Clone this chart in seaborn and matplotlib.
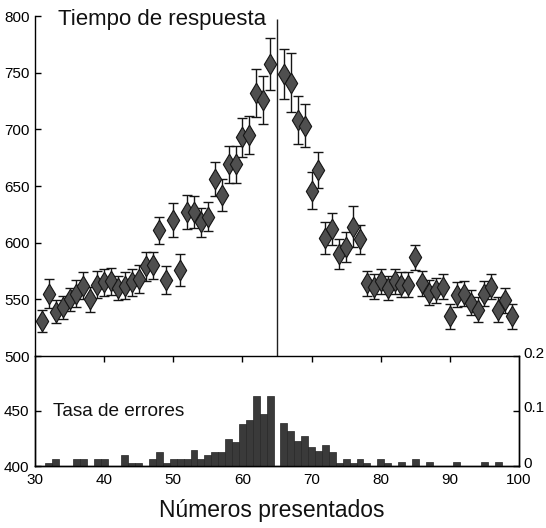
import matplotlib
matplotlib.use("Agg")
import matplotlib.pyplot as plt
import matplotlib.transforms as mtransforms
import numpy as np
import pandas as pd
import seaborn as sns

# ---------------- data ----------------
numbers = [31, 32, 33, 34, 35, 36, 37, 38, 39, 40, 41, 42, 43, 44, 45, 46, 47, 48, 49, 50,
           51, 52, 53, 54, 55, 56, 57, 58, 59, 60, 61, 62, 63, 64,
           66, 67, 68, 69, 70, 71, 72, 73, 74, 75, 76, 77, 78, 79, 80, 81, 82, 83, 84, 85,
           86, 87, 88, 89, 90, 91, 92, 93, 94, 95, 96, 97, 98, 99]
resp_time = [531, 555, 539, 543, 550, 555, 562, 550, 563, 565, 566, 560, 562, 565, 568, 579, 580, 611, 567, 620,
             576, 627, 627, 618, 623, 656, 642, 669, 669, 693, 695, 732, 726, 758,
             749, 741, 708, 703, 646, 664, 604, 612, 590, 596, 614, 603, 564, 561, 566, 560, 566, 563, 563, 587,
             564, 556, 558, 561, 535, 554, 555, 547, 541, 555, 561, 541, 549, 535]
resp_err = [10, 13, 10, 10, 10, 12, 12, 11, 12, 12, 12, 11, 12, 12, 12, 13, 12, 12, 12, 15,
            14, 15, 14, 13, 13, 15, 14, 16, 16, 17, 17, 21, 21, 23,
            22, 26, 21, 19, 16, 16, 14, 14, 13, 13, 18, 13, 11, 11, 11, 11, 11, 11, 11, 11,
            11, 11, 11, 11, 11, 11, 11, 11, 11, 11, 11, 11, 11, 11]
error_rate = [0, 0.006, 0.013, 0, 0, 0.013, 0.013, 0, 0.013, 0.013, 0, 0, 0.02, 0.006, 0.006, 0, 0.013, 0.025, 0.006, 0.013,
              0.013, 0.013, 0.03, 0.013, 0.02, 0.025, 0.025, 0.05, 0.044, 0.076, 0.083, 0.127, 0.095, 0.127,
              0.079, 0.064, 0.046, 0.054, 0.034, 0.027, 0.039, 0.026, 0.006, 0.013, 0.006, 0.013, 0.006, 0, 0.013, 0.006, 0, 0.007, 0, 0.013,
              0, 0.007, 0, 0, 0, 0.007, 0, 0, 0, 0.007, 0, 0.007, 0, 0]

rt_ticks = [500, 550, 600, 650, 700, 750, 800]
low_ticks = [400, 450]
rate_ticks = [0, 0.1, 0.2]
rate_labels = ["0", "0.1", "0.2"]
x_ticks = [30, 40, 50, 60, 70, 80, 90, 100]

df = pd.DataFrame({"num": numbers, "rt": resp_time, "err": resp_err, "rate": error_rate})

# ---------------- style ----------------
sns.set_theme(style="white")
plt.rcParams["font.family"] = ["Liberation Sans", "DejaVu Sans"]

W, H = 546, 528
fig = plt.figure(figsize=(W / 100, H / 100), dpi=100)
L, R = 35, 519
ax2 = fig.add_axes([L / W, 1 - 466 / H, (R - L) / W, (466 - 356) / H])
ax1 = fig.add_axes([L / W, 1 - 356 / H, (R - L) / W, (356 - 16) / H])
ax1.set_zorder(5)
ax1.patch.set_alpha(0)

# ---------------- top panel ----------------
ax1.errorbar(df["num"], df["rt"], yerr=df["err"], fmt="none", ecolor="#151515",
             elinewidth=1.0, capsize=3.5, capthick=1.0, zorder=2)
sns.scatterplot(data=df, x="num", y="rt", marker="d", s=110, color="#4f4f4f",
                edgecolor="#151515", linewidth=0.8, ax=ax1, zorder=3, legend=False)
ax1.vlines(65, 500, 797, color="#202020", lw=1.0, zorder=1)
ax1.set_xlim(30, 100)
ax1.set_ylim(500, 800)
ax1.set_yticks(rt_ticks)
ax1.set_xticks(x_ticks[1:-1])
ax1.tick_params(axis="y", direction="in", length=4, width=1, labelsize=11, colors="black", pad=4, left=True)
ax1.tick_params(axis="x", direction="out", length=4, width=1, labelbottom=False, bottom=True, color="black")
ax1.set_xlabel("")
ax1.set_ylabel("")
for s in ["top", "right"]:
    ax1.spines[s].set_visible(False)
for s in ["left", "bottom"]:
    ax1.spines[s].set_color("black")
    ax1.spines[s].set_linewidth(1.0)
ax1.text(33.3, 797, "Tiempo de respuesta", fontsize=16, va="center", ha="left", color="#111111")

# ---------------- bottom panel ----------------
ax2.set_xlim(30, 100)
ax2.set_ylim(400, 500)
ax2.set_yticks(low_ticks)
ax2.set_xticks(x_ticks)
ax2.tick_params(axis="y", direction="in", length=4, width=1, labelsize=11, colors="black", pad=4, left=True)
ax2.tick_params(axis="x", length=0, labelsize=11, colors="black", pad=5)
ax2.spines["top"].set_visible(False)
for s in ["left", "bottom", "right"]:
    ax2.spines[s].set_color("black")
    ax2.spines[s].set_linewidth(1.0)
ax2.text(32.6, 450, "Tasa de errores", fontsize=13.7, va="center", ha="left", color="#111111")

ax2r = ax2.twinx()
sns.histplot(data=df, x="num", weights="rate", discrete=True, element="bars",
             color="#3a3a3a", edgecolor="#262626", linewidth=0.5, alpha=1, ax=ax2r)
ax2r.set_xlim(30, 100)
ax2r.set_ylim(0, 0.2)
ax2r.set_yticks(rate_ticks)
ax2r.set_yticklabels(rate_labels)
ax2r.tick_params(axis="y", direction="in", length=4, width=1, labelsize=11, colors="black", pad=3, right=True)
ax2r.set_ylabel("")
ax2r.set_xlabel("")
ax2r.spines["top"].set_visible(False)
for s in ["left", "bottom", "right"]:
    ax2r.spines[s].set_color("black")
    ax2r.spines[s].set_linewidth(1.0)
shift = mtransforms.ScaledTranslation(0, 4 / 100, fig.dpi_scale_trans)
for lab in ax2r.get_yticklabels():
    lab.set_transform(lab.get_transform() + shift)
ax2.set_xlabel("")
ax2.set_ylabel("")

fig.text(272 / W, 1 - 511 / H, "Números presentados", fontsize=16.5, ha="center", va="center", color="#111111")

fig.savefig("out.png", dpi=100)
